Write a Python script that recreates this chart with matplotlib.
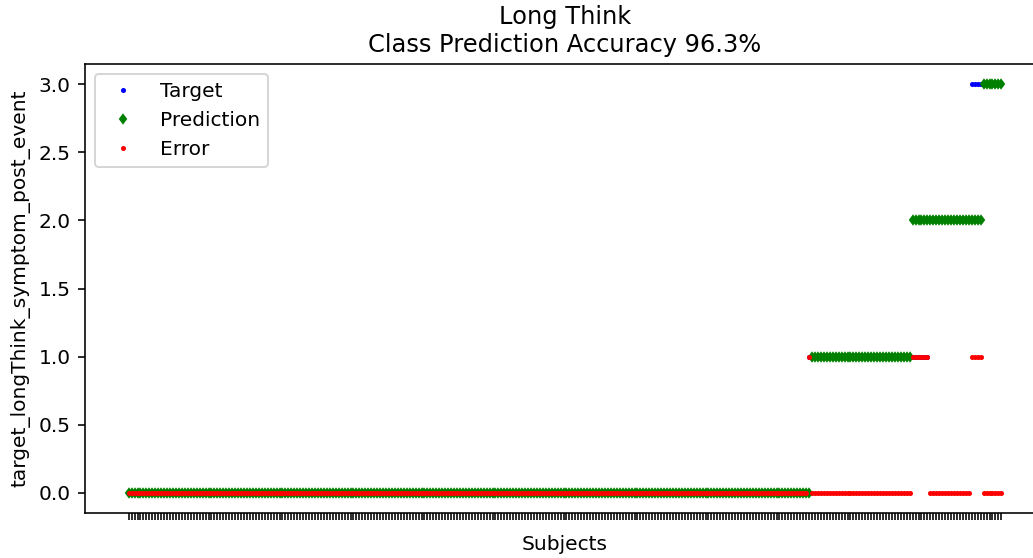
import numpy as np
import matplotlib
matplotlib.use("Agg")
import matplotlib.pyplot as plt

# subjects are ordered by (target, prediction); each run is one block of subjects
run_target = [0, 1, 1, 1, 2, 3, 3]
run_prediction = [0, 0, 1, 2, 2, 2, 3]
run_count = [230, 1, 34, 6, 14, 4, 7]

target = np.repeat(run_target, run_count)
prediction = np.repeat(run_prediction, run_count)
error = np.abs(target - prediction)
subjects = np.arange(len(target))

accuracy = 100.0 * np.mean(target == prediction)

DPI = 145
fig = plt.figure(figsize=(1033 / DPI, 558 / DPI), dpi=DPI)
ax = fig.add_axes([85 / 1033, 1 - 513 / 558, 960 / 1033, 449 / 558])

ax.plot(subjects, target, "b.", markersize=3, label="Target")
ax.plot(subjects, prediction, "gd", markersize=3, label="Prediction")
ax.plot(subjects, error, "r.", markersize=3, label="Error")

ax.set_xticks(subjects)
ax.set_xticklabels([""] * len(subjects))
ax.set_xlabel("Subjects")
ax.set_ylabel("target_longThink_symptom_post_event")
ax.set_title(f"Long Think\nClass Prediction Accuracy {accuracy:.1f}%")
ax.legend(loc="upper left")

fig.savefig("out.png", dpi=DPI)
